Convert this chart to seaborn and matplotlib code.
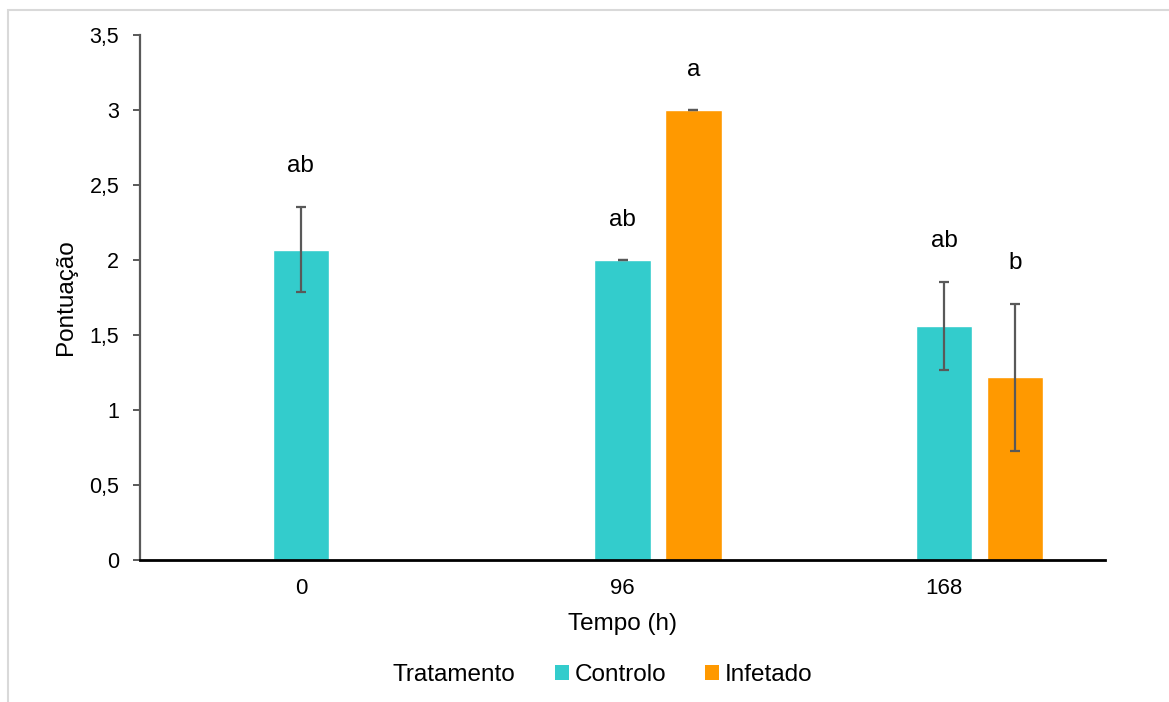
import pandas as pd
import numpy as np
import matplotlib
matplotlib.use('Agg')
import matplotlib.pyplot as plt
from matplotlib.patches import Patch, Rectangle
from matplotlib.ticker import FuncFormatter, MultipleLocator
import seaborn as sns

# dados
tempos = ['0', '96', '168']
tratamentos = ['Controlo', 'Infetado']
controlo_media = [2.07, 2.00, 1.56]
controlo_erro = [0.285, 0.0, 0.295]
infetado_media = [None, 3.00, 1.22]
infetado_erro = [None, 0.0, 0.49]
controlo_letras = ['ab', 'ab', 'ab']
infetado_letras = [None, 'a', 'b']

cores = {'': 'none', 'Controlo': '#33CCCC', 'Infetado': '#FF9900'}

rows = []
for trat, medias, erros, letras in [('Controlo', controlo_media, controlo_erro, controlo_letras),
                                    ('Infetado', infetado_media, infetado_erro, infetado_letras)]:
    for t, m, e, l in zip(tempos, medias, erros, letras):
        if m is None:
            continue
        rows.append({'Tempo': t, 'Tratamento': trat, 'Pontuacao': m, 'erro': e, 'letra': l})
df = pd.DataFrame(rows)

sns.set_theme(style='white')
plt.rcParams['font.family'] = ['Liberation Sans', 'DejaVu Sans']
plt.rcParams['text.color'] = 'black'
plt.rcParams['axes.labelcolor'] = 'black'
plt.rcParams['xtick.color'] = 'black'
plt.rcParams['ytick.color'] = 'black'

fig = plt.figure(figsize=(11.69, 7.02), dpi=100)
ax = fig.add_axes([140 / 1169, 1 - 560 / 702, 965 / 1169, 525 / 702])

# slot vazio a esquerda para o Controlo ficar centrado na categoria
sns.barplot(data=df, x='Tempo', y='Pontuacao', hue='Tratamento', order=tempos,
            hue_order=['', 'Controlo', 'Infetado'], palette=cores, saturation=1,
            errorbar=None, width=0.66, gap=0.2, legend=False, ax=ax)

for bar, (_, row) in zip(ax.patches, df.iterrows()):
    xc = bar.get_x() + bar.get_width() / 2
    ax.errorbar(xc, row['Pontuacao'], yerr=row['erro'], fmt='none',
                ecolor='#595959', elinewidth=1.6, capsize=3.8, capthick=1.6)
    ax.text(xc, row['Pontuacao'] + row['erro'] + 0.27, row['letra'],
            ha='center', va='center', fontsize=17.5)

ax.set_xlim(-0.5, 2.5)
ax.set_ylim(0, 3.5)
ax.yaxis.set_major_locator(MultipleLocator(0.5))
ax.yaxis.set_major_formatter(FuncFormatter(lambda v, p: f'{v:g}'.replace('.', ',')))

for s in ['top', 'right']:
    ax.spines[s].set_visible(False)
ax.spines['left'].set_color('#595959')
ax.spines['left'].set_linewidth(1.6)
ax.spines['bottom'].set_color('black')
ax.spines['bottom'].set_linewidth(2)
ax.tick_params(axis='y', length=5, width=1.4, color='#595959', labelcolor='black',
               pad=10, labelsize=15.5, left=True)
ax.tick_params(axis='x', length=0, pad=13, labelsize=16)

ax.set_xlabel('Tempo (h)', fontsize=17.5, labelpad=10)
ax.set_ylabel('Pontuação', fontsize=17.5, labelpad=9)

# legenda horizontal com titulo a esquerda
handles = [Patch(facecolor=cores[t], edgecolor='none') for t in tratamentos]
fig.legend(handles, tratamentos, loc='center', bbox_to_anchor=(684 / 1169, 1 - 675 / 702),
           ncol=2, frameon=False, fontsize=17.5, handlelength=0.55, handleheight=0.55,
           handletextpad=0.25, columnspacing=1.6, borderpad=0, borderaxespad=0)
fig.text(454 / 1169, 1 - 675 / 702, 'Tratamento', ha='center', va='center', fontsize=17.5)

# moldura cinzenta da area do grafico
fig.patches.append(Rectangle((8 / 1169, -0.1), 1.2, 1.1 - 10 / 702, transform=fig.transFigure,
                             fill=False, edgecolor='#d9d9d9', linewidth=1.5, zorder=-1))

fig.savefig('out.png', dpi=100)
